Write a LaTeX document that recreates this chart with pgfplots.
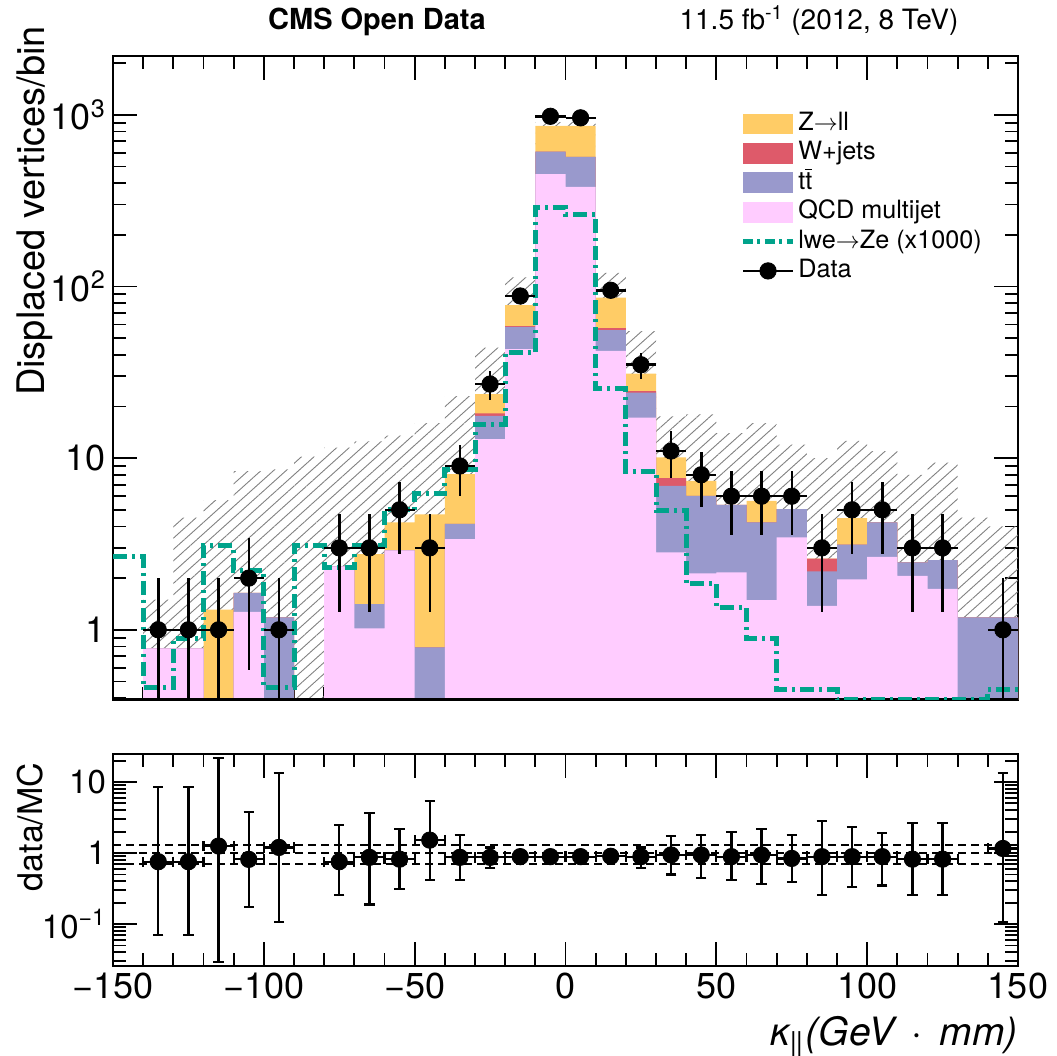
\documentclass[border=0pt]{standalone}
\usepackage{fontspec}
\setmainfont{TeX Gyre Heros}
\usepackage{pgfplots}
\usepackage{pgfplotstable}
\pgfplotsset{compat=1.18}
\usepgfplotslibrary{fillbetween}
\usetikzlibrary{patterns.meta}

\definecolor{zll}{RGB}{255,204,102}
\definecolor{wj}{RGB}{222,90,106}
\definecolor{ttb}{RGB}{153,153,204}
\definecolor{qcd}{RGB}{255,204,255}
\definecolor{sig}{RGB}{0,163,139}

\pgfplotstableread{
x     qcd   tt    w     z     up    lo    sig
-150  0.001 0.001 0.001 0.001 0.001 0.001 2.66
-140  0.78  0.78  0.78  0.78  1.5   0.001 0.46
-130  0.78  0.78  0.78  0.78  4.5   0.001 0.89
-120  0.001 0.001 0.001 1.31  5.7   0.001 3.08
-110  1.27  1.64  1.64  1.64  8.4   0.001 2.21
-100  0.001 1.18  1.18  1.18  8.6   0.001 0.46
-90   0.001 0.001 0.001 0.001 10.2  0.001 3.08
-80   2.34  2.34  2.34  2.34  11.5  0.001 2.31
-70   1.02  1.41  1.41  2.76  12.5  0.001 3.10
-60   2.90  2.90  2.90  4.22  13.5  0.001 5.0
-50   0.001 0.79  0.79  4.70  16    0.001 6.2
-40   3.37  4.14  4.14  8.07  23    0.001 8.6
-30   12.9  17.6  18.2  23.6  44    1.2   15.8
-20   43.2  58.2  58.8  77.8  113   43    41.2
-10   451   611   611   861   905   817   287
0     380   569   569   861   905   817   262
10    42.2  55.7  57.2  86.0  120   52    25.4
20    17.2  24.1  24.6  31.1  55    1.3   8.4
30    2.82  6.90  7.65  10.1  17.5  0.001 4.93
40    2.13  6.03  6.03  7.38  18    0.001 1.86
50    2.16  5.35  5.35  5.35  14    0.001 1.34
60    1.49  4.22  4.22  5.64  16    0.001 0.89
70    3.45  5.05  5.05  5.05  12    0.001 0.45
80    1.38  2.19  2.60  2.60  10    0.001 0.45
90    1.97  3.13  3.13  4.47  12.6  0.001 0.392
100   2.66  4.22  4.22  4.22  11    0.001 0.392
110   2.06  2.47  2.47  2.47  8     0.001 0.392
120   1.73  2.55  2.55  2.55  9.4   0.001 0.392
130   0.001 1.18  1.18  1.18  4.5   0.001 0.392
140   0.001 1.18  1.18  1.18  4.0   0.001 0.45
150   0.001 1.18  1.18  1.18  4.0   0.001 0.45
}\stack

\pgfplotstableread{
x    y    e      em
-135 1    1      0.999
-125 1    1      0.999
-115 1    1      0.999
-105 2    1.414  1.414
-95  1    1      0.999
-75  3    1.732  1.732
-65  3    1.732  1.732
-55  5    2.236  2.236
-45  3    1.732  1.732
-35  9    3      3
-25  27   5.196  5.196
-15  88   9.381  9.381
-5   980  31.30  31.30
5    960  30.98  30.98
15   95   9.747  9.747
25   35   5.916  5.916
35   11   3.317  3.317
45   8    2.828  2.828
55   6    2.449  2.449
65   6    2.449  2.449
75   6    2.449  2.449
85   3    1.732  1.732
95   5    2.236  2.236
105  5    2.236  2.236
115  3    1.732  1.732
125  3    1.732  1.732
145  1    1      0.999
}\data

\pgfplotstableread{
x    r     ep     em
-135 0.755 7.645  0.685
-125 0.755 7.645  0.685
-115 1.255 20.345 1.226
-105 0.815 3.005  0.64
-95  1.2   12.1   1.092
-75  0.755 1.725  0.499
-65  0.87  2.75   0.681
-55  0.82  1.38   0.51
-45  1.52  3.93   1.103
-35  0.87  0.94   0.453
-25  0.87  0.33   0.26
-15  0.89  0.16   0.14
-5   0.89  0.04   0.04
5    0.89  0.04   0.04
15   0.90  0.16   0.15
25   0.89  0.31   0.27
35   0.94  0.80   0.44
45   0.94  0.85   0.50
55   0.89  1.07   0.473
65   0.94  1.24   0.574
75   0.84  0.95   0.445
85   0.89  1.93   0.634
95   0.89  1.41   0.555
105  0.89  1.04   0.54
115  0.82  1.85   0.564
125  0.82  1.85   0.564
145  1.16  12.14  1.054
}\ratio

\begin{document}
\begin{tikzpicture}

\begin{axis}[
  scale only axis, anchor=south west,
  at={(56.5pt,178pt)}, width=452.5pt, height=322pt,
  xmin=-150, xmax=150,
  ymode=log, log origin=infty,
  ymin=0.39, ymax=2200,
  xtick={-150,-100,...,150}, minor x tick num=4,
  xticklabels={},
  ytick={1,10,100,1000},
  yticklabels={1,10,10\textsuperscript{2},10\textsuperscript{3}},
  minor ytick={0.4,0.5,0.6,0.7,0.8,0.9,2,3,4,5,6,7,8,9,20,30,40,50,60,70,80,90,200,300,400,500,600,700,800,900,2000},
  tick align=inside,
  major tick length=12pt, minor tick length=6.5pt,
  tick style={black, line width=0.9pt},
  axis line style={line width=1pt},
  ticklabel style={font=\fontsize{18}{21}\selectfont},
  legend style={at={(0.693,0.918)}, anchor=north west, draw=none, fill=none,
    font=\fontsize{12.6}{14}\selectfont, inner sep=0pt, row sep=0pt,
    nodes={inner sep=1.4pt, text height=9.2pt, text depth=2.7pt}},
  legend cell align=left,
]
\addplot[ybar interval, fill=zll, draw=none,
  legend image code/.code={\fill[zll] (0pt,-5.2pt) rectangle (25pt,5.2pt);}]
  table[x=x,y=z]{\stack};
\addlegendentry{Z$\rightarrow$ll}
\addplot[ybar interval, fill=wj, draw=none,
  legend image code/.code={\fill[wj] (0pt,-5.2pt) rectangle (25pt,5.2pt);}]
  table[x=x,y=w]{\stack};
\addlegendentry{W+jets}
\addplot[ybar interval, fill=ttb, draw=none,
  legend image code/.code={\fill[ttb] (0pt,-5.2pt) rectangle (25pt,5.2pt);}]
  table[x=x,y=tt]{\stack};
\addlegendentry{t$\overline{\hbox{t}}$}
\addplot[ybar interval, fill=qcd, draw=none,
  legend image code/.code={\fill[qcd] (0pt,-5.2pt) rectangle (25pt,5.2pt);}]
  table[x=x,y=qcd]{\stack};
\addlegendentry{QCD multijet}

\addplot[name path=hu, draw=none, const plot mark left, forget plot] table[x=x,y=up]{\stack};
\addplot[name path=hl, draw=none, const plot mark left, forget plot] table[x=x,y=lo]{\stack};
\addplot[pattern={Lines[angle=42,distance=4.2pt,line width=0.45pt]}, pattern color=black!50, draw=none, forget plot]
  fill between[of=hu and hl];

\draw[line width=2pt] (rel axis cs:0,0) -- (rel axis cs:1,0);

\addplot[sig, line width=2.5pt, dash pattern=on 7pt off 2.5pt on 1.5pt off 2.5pt, const plot mark left,
  legend image code/.code={\draw[sig, line width=2.5pt, dash pattern=on 5pt off 2.2pt on 1.5pt off 2.2pt] (0pt,0pt) -- (25pt,0pt);}]
  table[x=x,y=sig]{\stack};
\addlegendentry{lwe$\rightarrow$Ze (x1000)}

\addplot[black, only marks, mark=*, mark size=4.1pt,
  legend image code/.code={\draw[black, line width=1.25pt] (0pt,0pt) -- (25pt,0pt); \fill[black] (12.5pt,0pt) circle (4.1pt);},
  error bars/.cd, x dir=both, x fixed=5, y dir=both, y explicit, error mark=none,
  error bar style={line width=1.25pt, black}]
  table[x=x, y=y, y error plus=e, y error minus=em]{\data};
\addlegendentry{Data}
\end{axis}

\begin{axis}[
  scale only axis, anchor=south west,
  at={(56.5pt,45pt)}, width=452.5pt, height=106pt,
  xmin=-150, xmax=150,
  ymode=log,
  ymin=0.0257, ymax=24.8,
  xtick={-150,-100,...,150}, minor x tick num=4,
  xticklabels={−150,−100,−50,0,50,100,150},
  ytick={0.1,1,10},
  yticklabels={10\textsuperscript{−1},1,10},
  minor ytick={0.03,0.04,0.05,0.06,0.07,0.08,0.09,0.2,0.3,0.4,0.5,0.6,0.7,0.8,0.9,2,3,4,5,6,7,8,9,20},
  tick align=inside,
  major tick length=12pt, minor tick length=6.5pt,
  tick style={black, line width=0.9pt},
  axis line style={line width=1pt},
  xticklabel style={font=\fontsize{18}{21}\selectfont},
  yticklabel style={font=\fontsize{16.5}{20}\selectfont},
]
\addplot[black, line width=0.8pt, dash pattern=on 4pt off 2.5pt] coordinates {(-150,1.3) (150,1.3)};
\addplot[black, line width=0.8pt, dash pattern=on 4pt off 2.5pt] coordinates {(-150,1) (150,1)};
\addplot[black, line width=0.8pt, dash pattern=on 4pt off 2.5pt] coordinates {(-150,0.7) (150,0.7)};
\addplot[black, only marks, mark=*, mark size=4.1pt,
  error bars/.cd, x dir=both, x fixed=5, y dir=both, y explicit,
  error mark=-,
  error mark options={rotate=90, black, mark size=2.6pt, line width=1.1pt},
  error bar style={line width=1.1pt, black}]
  table[x=x, y=r, y error plus=ep, y error minus=em]{\ratio};
\end{axis}

\node[rotate=90, font=\fontsize{19}{22}\selectfont] at (17.5pt,422.5pt) {Displaced vertices/bin};
\node[rotate=90, font=\fontsize{17}{20}\selectfont] at (15pt,114.5pt) {data/MC};
\node[anchor=east, font=\fontsize{19.5}{22}\selectfont\itshape] at (512.5pt,9.5pt) {κ\textsubscript{|\kern-0.6pt|}\kern1pt(GeV\ \,·\ \,mm)};
\node[anchor=base, font=\bfseries\fontsize{14.5}{17}\selectfont] at (188.5pt,513pt) {CMS Open Data};
\node[anchor=base, font=\fontsize{14}{17}\selectfont] at (409.5pt,513pt) {11.5 fb\textsuperscript{-1} (2012, 8 TeV)};
\pgfresetboundingbox
\useasboundingbox (0,0) rectangle (528.5pt,528pt);
\end{tikzpicture}
\end{document}
